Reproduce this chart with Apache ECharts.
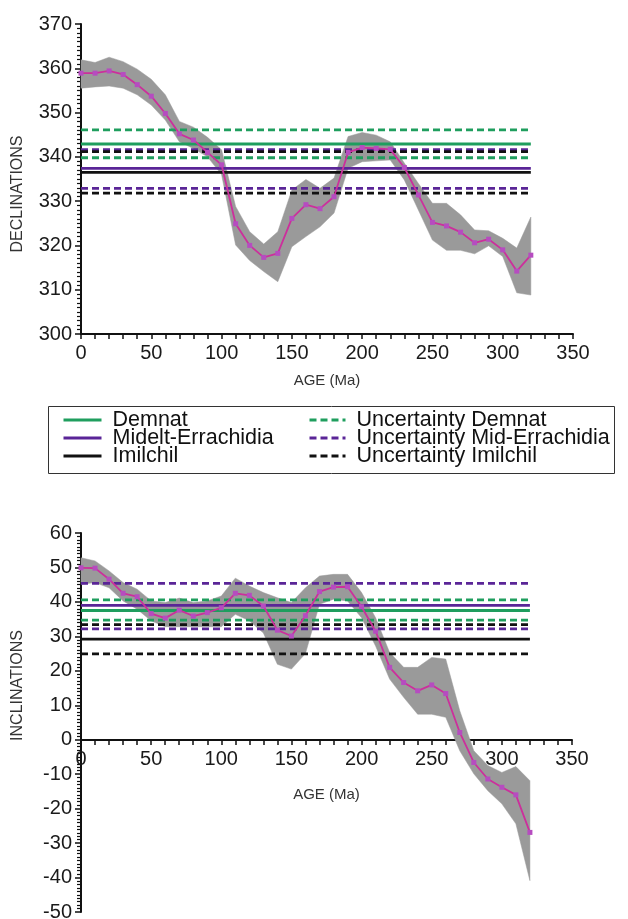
<!DOCTYPE html>
<html>
<head>
<meta charset="utf-8">
<script src="https://cdn.jsdelivr.net/npm/echarts@6/dist/echarts.min.js"></script>
<style>
  html, body { margin: 0; padding: 0; background: #fff; }
  #chart { width: 628px; height: 919px; }
</style>
</head>
<body>
<div id="chart"></div>
<script>
// ages (Ma)
const ages = [0, 10, 20, 30, 40, 50, 60, 70, 80, 90, 100, 110, 120, 130, 140, 150, 160,
  170, 180, 190, 200, 210, 220, 230, 240, 250, 260, 270, 280, 290, 300, 310, 320];

// declination curve + envelope
const decMean = [358.9, 358.9, 359.4, 358.6, 356.3, 353.7, 349.8, 345.2, 343.8, 341.0, 338.2,
  324.9, 320.0, 317.3, 318.2, 326.1, 329.2, 328.3, 331.0, 341.0, 342.1, 341.9, 341.7, 337.6,
  331.4, 325.2, 324.4, 323.0, 320.6, 321.4, 319.0, 314.2, 317.8];
const decUpper = [361.9, 361.3, 362.5, 361.5, 359.8, 357.5, 354.0, 348.0, 346.7, 344.4, 341.6,
  328.8, 323.1, 320.3, 323.1, 332.5, 334.9, 332.9, 335.2, 344.6, 345.5, 344.9, 343.4, 338.6,
  334.0, 329.5, 329.5, 326.9, 323.5, 323.3, 321.6, 319.4, 326.4];
const decLower = [355.5, 355.8, 356.0, 355.5, 354.0, 351.7, 348.3, 343.4, 341.9, 340.0, 336.0,
  320.1, 316.6, 314.1, 311.8, 319.7, 322.0, 324.2, 327.3, 337.4, 338.9, 339.1, 339.3, 334.8,
  328.0, 321.2, 318.9, 318.9, 318.1, 319.9, 317.5, 309.3, 308.8];

// inclination curve + envelope
const incMean = [49.9, 49.8, 46.6, 42.5, 41.5, 36.6, 35.3, 37.6, 35.9, 36.9, 38.3, 42.5, 41.9,
  38.8, 31.8, 30.1, 36.0, 43.0, 44.3, 44.4, 38.6, 31.5, 21.0, 16.6, 14.2, 15.9, 13.4, 2.1,
  -6.6, -11.4, -13.8, -16.0, -26.9];
const incUpper = [52.8, 51.9, 49.0, 45.6, 43.7, 40.3, 39.8, 41.1, 39.8, 40.3, 41.7, 46.9, 44.6,
  42.7, 41.2, 39.8, 44.1, 47.5, 48.0, 48.0, 42.7, 35.4, 25.3, 21.0, 21.0, 23.9, 23.4, 8.4,
  -3.2, -7.5, -9.5, -7.8, -11.9];
const incLower = [45.1, 45.6, 44.1, 40.3, 37.9, 34.5, 32.8, 32.8, 32.8, 32.8, 32.8, 36.4, 34.5,
  31.0, 21.9, 20.5, 25.0, 39.3, 40.8, 40.3, 35.4, 27.2, 17.6, 12.3, 7.4, 7.4, 6.5, -3.2,
  -9.9, -14.8, -18.6, -24.4, -40.9];

// locality reference values [mean, low, high]
const sites = ["Demnat", "Midelt-Errachidia", "Imilchil"];
const uncNames = ["Uncertainty Demnat", "Uncertainty Mid-Errachidia", "Uncertainty Imilchil"];
const decRef = [[342.9, 339.8, 346.1], [337.4, 332.9, 341.6], [336.5, 331.8, 341.2]];
const incRef = [[37.5, 34.7, 40.6], [39.0, 32.2, 45.4], [29.2, 24.9, 33.4]];
const refSpan = [0, 320];

const xTicks = { min: 0, max: 350, interval: 50 };
const decTicks = { min: 300, max: 370, interval: 10 };
const incTicks = { min: -50, max: 60, interval: 10 };

const colors = ["#1f9e5e", "#5a2597", "#111111"];
const font = "Liberation Sans";

// grey envelope: one polygon, upper edge forward then lower edge back
function bandSeries(lower, upper, idx) {
  return {
    type: "custom", xAxisIndex: idx, yAxisIndex: idx, silent: true, z: 1,
    data: ages.map((a, i) => [a, lower[i], upper[i]]),
    renderItem: function (params, api) {
      if (params.dataIndex !== 0) return null;
      let pts = [];
      ages.forEach((a, i) => pts.push(api.coord([a, upper[i]])));
      for (let i = ages.length - 1; i >= 0; i--) pts.push(api.coord([ages[i], lower[i]]));
      return {
        type: "polygon", shape: { points: pts },
        style: { fill: "#9a9a9a", stroke: "#9a9a9a", lineWidth: 0.5 },
      };
    },
  };
}

function meanSeries(vals, idx) {
  return {
    type: "line", xAxisIndex: idx, yAxisIndex: idx, data: ages.map((a, i) => [a, vals[i]]),
    symbol: "rect", symbolSize: 5, itemStyle: { color: "#b64cc0" },
    lineStyle: { color: "#cc2f9c", width: 1.8 }, z: 4,
  };
}

function hline(name, v, color, dashed, idx) {
  return {
    name: name, type: "line", xAxisIndex: idx, yAxisIndex: idx,
    data: refSpan.map((a) => [a, v]), symbol: "none", silent: true, z: 3,
    itemStyle: { color: color },
    lineStyle: { color: color, width: 2.8, type: dashed ? [7, 4] : "solid" },
  };
}

function refSeries(ref, idx) {
  let out = [];
  ref.forEach((r, k) => {
    out.push(hline(sites[k], r[0], colors[k], false, idx));
    out.push(hline(uncNames[k], r[1], colors[k], true, idx));
    out.push(hline(uncNames[k], r[2], colors[k], true, idx));
  });
  return out;
}

const axisText = { color: "#1a1a1a", fontSize: 20, fontFamily: font };
const nameText = { color: "#333", fontSize: 15, fontFamily: font };

function xAxis(idx, nameGap, offset) {
  return {
    type: "value", gridIndex: idx, ...xTicks, name: "AGE (Ma)", nameLocation: "middle",
    nameGap: nameGap, nameTextStyle: nameText, offset: offset,
    axisLine: { onZero: false, lineStyle: { color: "#111", width: 2 } },
    axisTick: { length: 5, lineStyle: { color: "#111", width: 1.5 } },
    minorTick: { show: true, splitNumber: 5, length: 5, lineStyle: { color: "#111", width: 1.5 } },
    axisLabel: { ...axisText, margin: 9 },
    splitLine: { show: false },
  };
}

function yAxis(idx, ticks, name, namePad) {
  return {
    type: "value", gridIndex: idx, ...ticks, name: name, nameLocation: "middle", nameGap: 55,
    nameTextStyle: { ...nameText, fontSize: 16, padding: namePad },
    axisLine: { show: true, onZero: false, lineStyle: { color: "#111", width: 2 } },
    axisTick: { show: true, length: 6, lineStyle: { color: "#111", width: 1.5 } },
    minorTick: { show: true, splitNumber: 10, length: 4, lineStyle: { color: "#111", width: 1.2 } },
    axisLabel: { ...axisText, margin: 9 },
    splitLine: { show: false },
  };
}

const legendBase = {
  orient: "vertical", padding: 0, itemGap: -4, itemHeight: 14,
  textStyle: { fontSize: 21.5, lineHeight: 18, color: "#111", fontFamily: font, padding: [0, 0, 0, 6] },
  itemStyle: { opacity: 0 },
  lineStyle: { width: 3 },
  selectedMode: false,
};

const option = {
  animation: false,
  backgroundColor: "#ffffff",
  grid: [
    { left: 81, right: 55, top: 24, height: 310, outerBoundsMode: "none" },
    { left: 81, right: 56, top: 533, height: 379, outerBoundsMode: "none" },
  ],
  xAxis: [xAxis(0, 39, 0), xAxis(1, 47, -172)],
  yAxis: [
    yAxis(0, decTicks, "DECLINATIONS", [0, 30, 0, 0]),
    yAxis(1, incTicks, "INCLINATIONS", [0, 0, 0, 74]),
  ],
  legend: [
    { ...legendBase, left: 62, top: 409, itemWidth: 38, data: sites },
    { ...legendBase, left: 308, top: 409, itemWidth: 36, data: uncNames },
  ],
  graphic: [
    {
      type: "rect", left: 46, top: 404, shape: { width: 566, height: 67 },
      style: { fill: "none", stroke: "#333", lineWidth: 1 }, silent: true,
    },
  ],
  series: [
    bandSeries(decLower, decUpper, 0),
    ...refSeries(decRef, 0),
    meanSeries(decMean, 0),
    bandSeries(incLower, incUpper, 1),
    ...refSeries(incRef, 1),
    meanSeries(incMean, 1),
  ],
};

const myChart = echarts.init(document.getElementById("chart"));
myChart.setOption(option);
</script>
</body>
</html>
